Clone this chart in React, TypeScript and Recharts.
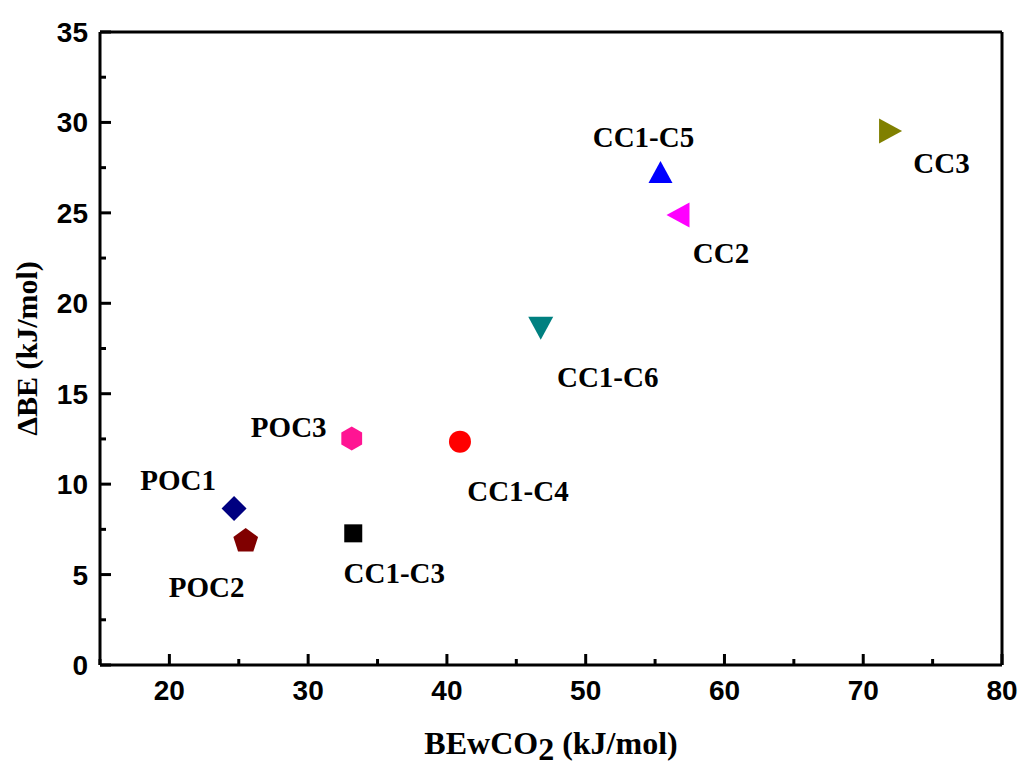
import { ScatterChart, Scatter, XAxis, YAxis, Label } from 'recharts';

// point names and values
const NAMES = ['POC1', 'POC2', 'POC3', 'CC1-C3', 'CC1-C4', 'CC1-C5', 'CC1-C6', 'CC2', 'CC3'];
const BE_CO2 = [24.66, 25.5, 33.14, 33.25, 40.94, 55.39, 46.76, 56.65, 71.97];
const DELTA_BE = [8.66, 6.91, 12.53, 7.28, 12.35, 27.26, 18.62, 24.88, 29.53];

const X_TICKS = [15, 20, 25, 30, 35, 40, 45, 50, 55, 60, 65, 70, 75, 80];
const Y_TICKS = [0, 2.5, 5, 7.5, 10, 12.5, 15, 17.5, 20, 22.5, 25, 27.5, 30, 32.5, 35];

// marker styles
const COLORS = ['#000080', '#800000', '#ff1493', '#000000', '#ff0000', '#0000ff', '#008080', '#ff00ff', '#808000'];
const SYMBOLS = ['diamond', 'pentagon', 'hexagon', 'square', 'circle', 'up', 'down', 'left', 'right'];
const LABEL_DX = [-56, -39, -63, 41, 58, -17, 67, 43, 51];
const LABEL_DY = [-18, 57, -1, 50, 59, -25, 59, 48, 42];

const SANS = '"Liberation Sans", Arial, sans-serif';
const SERIF = '"Liberation Serif", "Times New Roman", serif';

const pts = (arr: number[][], cx: number, cy: number) =>
  arr.map(([a, b]) => `${cx + a},${cy + b}`).join(' ');

function Marker({ cx, cy, idx }: any) {
  const fill = COLORS[idx];
  const sym = SYMBOLS[idx];
  let mark;
  if (sym === 'circle') mark = <circle cx={cx} cy={cy} r={11} fill={fill} />;
  else if (sym === 'square') mark = <rect x={cx - 9} y={cy - 9} width={18} height={18} fill={fill} />;
  else {
    let p: number[][] = [];
    if (sym === 'diamond') p = [[0, -12.5], [12.5, 0], [0, 12.5], [-12.5, 0]];
    if (sym === 'hexagon') p = [[0, -12], [10.4, -6], [10.4, 6], [0, 12], [-10.4, 6], [-10.4, -6]];
    if (sym === 'pentagon') {
      const r = 13;
      p = [0, 1, 2, 3, 4].map((k) => {
        const a = ((-90 + 72 * k) * Math.PI) / 180;
        return [r * Math.cos(a), r * Math.sin(a) + 1];
      });
    }
    if (sym === 'up') p = [[0, -11], [12, 11], [-12, 11]];
    if (sym === 'down') p = [[-12.5, -11.5], [12.5, -11.5], [0, 11.5]];
    if (sym === 'left') p = [[-11.5, 0], [11.5, -12.5], [11.5, 12.5]];
    if (sym === 'right') p = [[11.5, 0], [-11.5, -12.5], [-11.5, 12.5]];
    mark = <polygon points={pts(p, cx, cy)} fill={fill} />;
  }
  return (
    <g>
      {mark}
      <text
        x={cx + LABEL_DX[idx]}
        y={cy + LABEL_DY[idx]}
        textAnchor="middle"
        fontFamily={SERIF}
        fontWeight="bold"
        fontSize={29}
        fill="#000"
      >
        {NAMES[idx]}
      </text>
    </g>
  );
}

const isMajorX = (v: number) => v % 10 === 0 && v > 15;
const isMajorY = (v: number) => v % 5 === 0;

const BottomTick = ({ x, y, payload }: any) => {
  const major = isMajorX(payload.value);
  return (
    <g>
      <line x1={x} x2={x} y1={y} y2={y - (major ? 11 : 6)} stroke="#000" strokeWidth={3} />
      {major && (
        <text x={x} y={y + 35} textAnchor="middle" fontFamily={SANS} fontWeight="bold" fontSize={28} fill="#000">
          {payload.value}
        </text>
      )}
    </g>
  );
};

const TopTick = ({ x, y, payload }: any) => (
  <line x1={x} x2={x} y1={y} y2={y + (isMajorX(payload.value) ? 11 : 6)} stroke="#000" strokeWidth={3} />
);

const LeftTick = ({ x, y, payload }: any) => {
  const major = isMajorY(payload.value);
  return (
    <g>
      <line x1={x} x2={x + (major ? 11 : 6)} y1={y} y2={y} stroke="#000" strokeWidth={3} />
      {major && (
        <text x={x - 12} y={y + 10} textAnchor="end" fontFamily={SANS} fontWeight="bold" fontSize={28} fill="#000">
          {payload.value}
        </text>
      )}
    </g>
  );
};

const RightTick = ({ x, y, payload }: any) => (
  <line x1={x} x2={x - (isMajorY(payload.value) ? 11 : 6)} y1={y} y2={y} stroke="#000" strokeWidth={3} />
);

const XTitle = ({ viewBox }: any) => (
  <text
    x={viewBox.x + viewBox.width / 2}
    y={665 + 89}
    textAnchor="middle"
    fontFamily={SERIF}
    fontWeight="bold"
    fontSize={32}
    fill="#000"
  >
    BEwCO
    <tspan dy={6}>2</tspan>
    <tspan dy={-6}> (kJ/mol)</tspan>
  </text>
);

const YTitle = ({ viewBox }: any) => {
  const cx = 37;
  const cy = viewBox.y + viewBox.height / 2;
  return (
    <text
      x={cx}
      y={cy}
      transform={`rotate(-90 ${cx} ${cy})`}
      textAnchor="middle"
      fontFamily={SERIF}
      fontWeight="bold"
      fontSize={30}
      fill="#000"
    >
      ΔBE (kJ/mol)
    </text>
  );
};

export default function App() {
  const axisLine = { stroke: '#000', strokeWidth: 3 };
  return (
    <div style={{ position: 'absolute', left: 0, top: 0, width: 1020, height: 768, background: '#fff' }}>
      <ScatterChart width={1020} height={768} margin={{ top: 31, right: 17, bottom: 102, left: 99 }}>
        <XAxis
          xAxisId="b"
          type="number"
          dataKey="x"
          domain={[15, 80]}
          ticks={X_TICKS}
          interval={0}
          height={1}
          tickSize={0}
          tickMargin={0}
          tickLine={false}
          axisLine={axisLine}
          tick={<BottomTick />}
        >
          <Label content={<XTitle />} />
        </XAxis>
        <XAxis
          xAxisId="t"
          orientation="top"
          type="number"
          domain={[15, 80]}
          ticks={X_TICKS}
          interval={0}
          height={1}
          tickSize={0}
          tickMargin={0}
          tickLine={false}
          axisLine={axisLine}
          tick={<TopTick />}
        />
        <YAxis
          yAxisId="l"
          type="number"
          dataKey="y"
          domain={[0, 35]}
          ticks={Y_TICKS}
          interval={0}
          width={1}
          tickSize={0}
          tickMargin={0}
          tickLine={false}
          axisLine={axisLine}
          tick={<LeftTick />}
        >
          <Label content={<YTitle />} />
        </YAxis>
        <YAxis
          yAxisId="r"
          orientation="right"
          type="number"
          domain={[0, 35]}
          ticks={Y_TICKS}
          interval={0}
          width={1}
          tickSize={0}
          tickMargin={0}
          tickLine={false}
          axisLine={axisLine}
          tick={<RightTick />}
        />
        {NAMES.map((name, i) => (
          <Scatter
            key={name}
            name={name}
            xAxisId="b"
            yAxisId="l"
            data={[{ x: BE_CO2[i], y: DELTA_BE[i] }]}
            isAnimationActive={false}
            shape={(p: any) => <Marker cx={p.cx} cy={p.cy} idx={i} />}
          />
        ))}
      </ScatterChart>
    </div>
  );
}
